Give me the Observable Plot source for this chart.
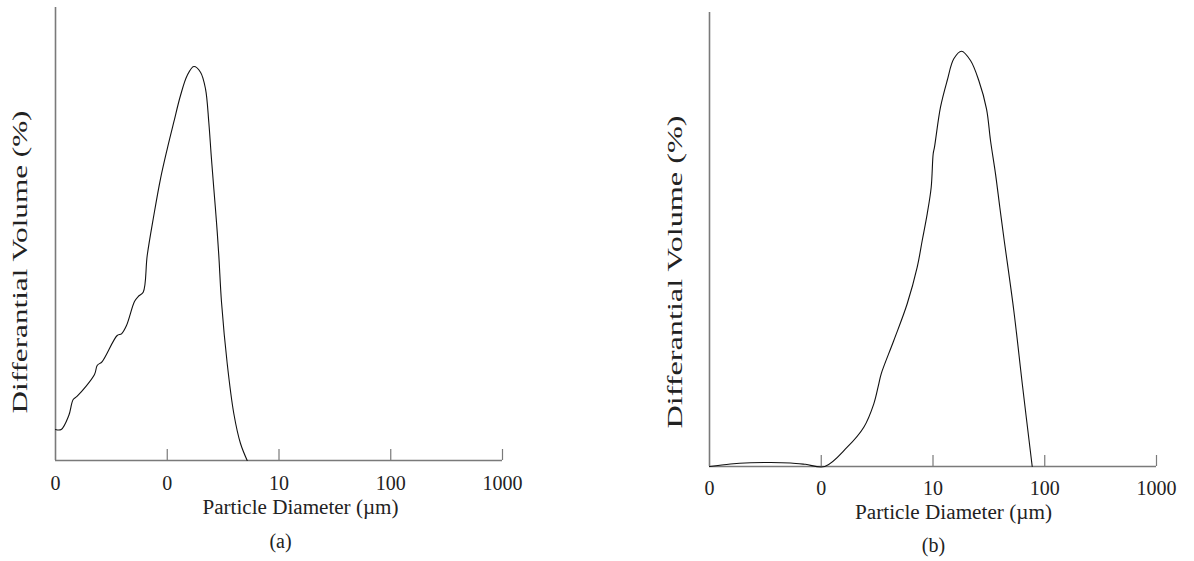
<!DOCTYPE html>
<html><head><meta charset="utf-8">
<script src="https://cdn.jsdelivr.net/npm/d3@7"></script>
<script src="https://cdn.jsdelivr.net/npm/@observablehq/plot@0.6"></script>
<style>
html,body{margin:0;padding:0;background:#fff;}
#wrap{position:relative;width:1194px;height:561px;overflow:hidden;background:#fff;}
#wrap svg{position:absolute;top:0;overflow:visible;}
</style></head><body><div id="wrap"></div>
<script>
// Tick values (µm) and their printed labels
const tickValues = [0.1, 1, 10, 100, 1000];
const tickLabels = ["0", "0", "10", "100", "1000"];

// Panel (a): particle diameter (µm) vs differential volume (arbitrary %, 0–10 axis)
const aDiameter = [0.1, 0.1125, 0.1315, 0.144, 0.1564, 0.2234, 0.236, 0.2618, 0.3565, 0.3896, 0.4318, 0.5091, 0.5496, 0.6092, 0.6617, 0.7579, 0.870, 1.0, 1.144, 1.314, 1.508, 1.728, 1.984, 2.199, 2.354, 2.474, 2.611, 2.759, 2.893, 3.059, 3.44, 3.94, 4.524, 5.193];
const aVolume = [0.684, 0.684, 0.993, 1.347, 1.419, 1.898, 2.097, 2.185, 2.759, 2.797, 2.98, 3.51, 3.62, 3.715, 4.525, 5.408, 6.219, 6.881, 7.468, 8.057, 8.499, 8.698, 8.572, 8.205, 7.468, 6.733, 5.998, 5.261, 4.525, 3.495, 2.141, 1.038, 0.375, 0];

// Panel (b)
const bDiameter = [0.1, 0.154, 0.233, 0.352, 0.531, 0.723, 1.076, 1.707, 2.403, 2.953, 3.273, 3.44, 4.459, 5.876, 7.222, 8.008, 8.875, 9.636, 10.04, 10.31, 11.67, 13.4, 15.35, 17.99, 21.66, 25.69, 30.11, 32.7, 36.25, 39.61, 43.02, 52.84, 63.2, 77.23];
const bVolume = [0, 0.055, 0.081, 0.088, 0.077, 0.048, 0, 0.425, 0.866, 1.381, 1.822, 2.042, 2.775, 3.584, 4.39, 4.978, 5.566, 6.152, 6.888, 7.033, 7.914, 8.502, 8.98, 9.148, 8.943, 8.502, 7.879, 7.181, 6.447, 5.711, 5.044, 3.436, 1.784, 0];

const yLabel = "Differantial Volume (%)";
const xLabel = "Particle Diameter (\u00b5m)";
const panelTags = ["(a)", "(b)"];

const FONT = "'Liberation Serif', 'Times New Roman', serif";
const AXIS = "#7a7a7a";

function panel(cfg) {
  const frameH = cfg.height - cfg.mt - cfg.mb;
  const svg = Plot.plot({
    width: cfg.width,
    height: cfg.height,
    marginLeft: cfg.ml,
    marginRight: cfg.mr,
    marginTop: cfg.mt,
    marginBottom: cfg.mb,
    style: {fontFamily: FONT, background: "transparent", overflow: "visible"},
    x: {type: "log", domain: [0.1, 1000], axis: null},
    y: {domain: [0, 10], axis: null},
    marks: [
      Plot.ruleX([0.1], {stroke: AXIS, strokeWidth: 1.6}),
      Plot.ruleY([0], {stroke: AXIS, strokeWidth: 1.6}),
      Plot.tickX(tickValues.slice(1), {x: d => d, stroke: AXIS, strokeWidth: 1.2, insetTop: frameH - 11}),
      Plot.text(tickValues, {x: d => d, y: 0, text: (d, i) => tickLabels[i], dy: cfg.tickDy, fontSize: 20, fill: "#222", lineAnchor: "middle"}),
      Plot.line({length: cfg.d.length}, {x: cfg.d, y: cfg.v, stroke: "#111", strokeWidth: 1.1, curve: "catmull-rom"}),
      Plot.text([xLabel], {frameAnchor: "bottom", dx: cfg.xlDx, dy: cfg.xlDy, fontSize: 20, fill: "#222", lineAnchor: "middle"}),
      Plot.text([cfg.tag], {frameAnchor: "bottom", dx: cfg.tagDx, dy: cfg.tagDy, fontSize: 20, fill: "#222", lineAnchor: "middle"}),
      Plot.text([yLabel], {frameAnchor: "left", rotate: -90, dx: cfg.ylDx, dy: cfg.ylDy, fontSize: 20, fill: "#222", lineAnchor: "middle", textAnchor: "start"})
    ]
  });
  d3.select(svg).selectAll("text").each(function () {
    if (this.textContent === yLabel) {
      this.setAttribute("textLength", cfg.ylLen);
      this.setAttribute("lengthAdjust", "spacingAndGlyphs");
    }
    if (this.textContent === xLabel) {
      this.setAttribute("textLength", cfg.xlLen);
      this.setAttribute("lengthAdjust", "spacingAndGlyphs");
    }
  });
  svg.style.left = cfg.left + "px";
  return svg;
}

const wrap = document.getElementById("wrap");
wrap.appendChild(panel({
  left: 0, width: 597, height: 561, ml: 55, mr: 95, mt: 7, mb: 101,
  d: aDiameter, v: aVolume, tag: panelTags[0],
  tickDy: 23, xlDx: 21.5, xlDy: 47, tagDx: 1.5, tagDy: 81,
  ylDx: -35, ylDy: 179.5, ylLen: 303, xlLen: 196
}));
wrap.appendChild(panel({
  left: 597, width: 597, height: 561, ml: 112, mr: 38, mt: 12, mb: 95,
  d: bDiameter, v: bVolume, tag: panelTags[1],
  tickDy: 22, xlDx: 20.5, xlDy: 46, tagDx: 0.5, tagDy: 79,
  ylDx: -34, ylDy: 189, ylLen: 313, xlLen: 197
}));
</script>
</body></html>
